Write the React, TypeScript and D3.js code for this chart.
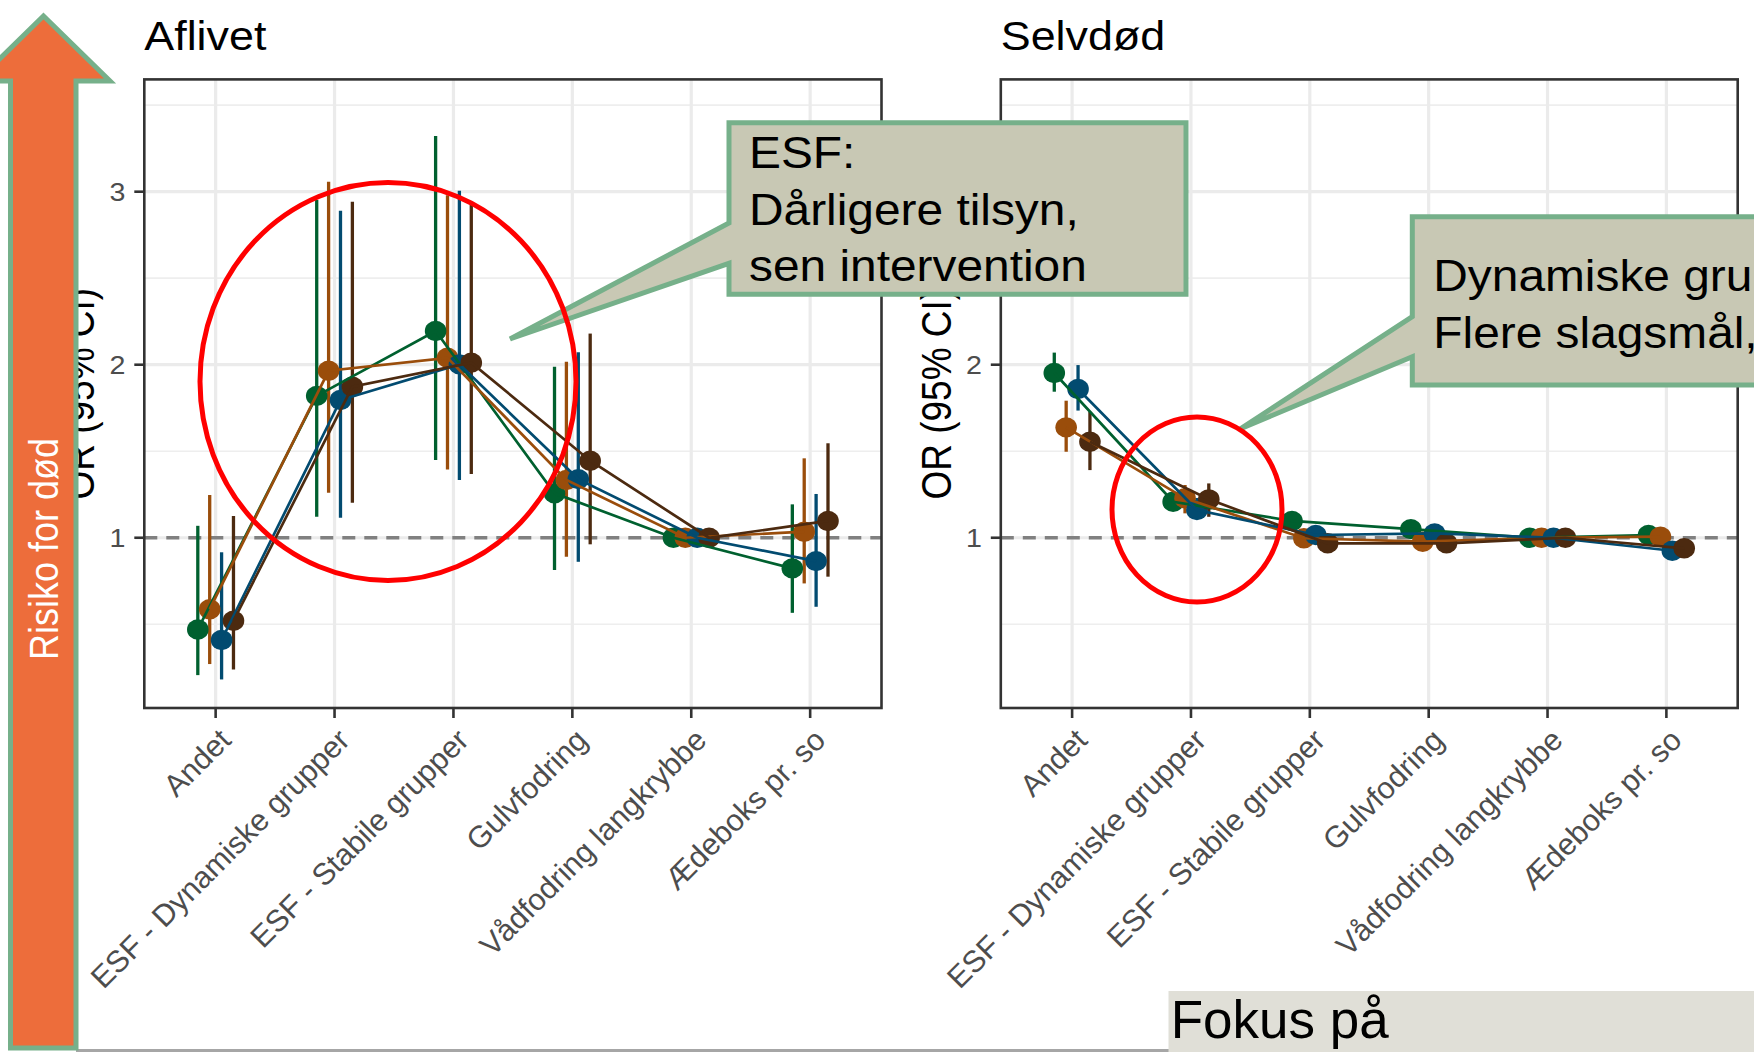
import React from "react";
import * as d3 from "d3";

// ---------- data ----------
const categories = [
  "Andet",
  "ESF - Dynamiske grupper",
  "ESF - Stabile grupper",
  "Gulvfodring",
  "Vådfodring langkrybbe",
  "Ædeboks pr. so",
];
const seriesColors = ["#00602F", "#9A4D0B", "#024B70", "#4C2A10"];
const yMajorTicks = [1, 2, 3];
const yMinorTicks = [0.5, 1.5, 2.5, 3.5];
const yDomain = [0.016, 3.649];

// Aflivet (euthanised)
const aflivetGreenEst = [0.47, 1.82, 2.195, 1.257, 1.0, 0.823];
const aflivetGreenLo = [0.206, 1.121, 1.449, 0.813, 0.98, 0.566];
const aflivetGreenHi = [1.069, 2.952, 3.322, 1.988, 1.02, 1.193];
const aflivetOrangeEst = [0.587, 1.965, 2.04, 1.334, 1.0, 1.035];
const aflivetOrangeLo = [0.27, 1.26, 1.395, 0.89, 0.98, 0.736];
const aflivetOrangeHi = [1.247, 3.058, 2.98, 2.017, 1.02, 1.459];
const aflivetBlueEst = [0.409, 1.796, 2.002, 1.339, 1.0, 0.865];
const aflivetBlueLo = [0.181, 1.116, 1.334, 0.861, 0.98, 0.601];
const aflivetBlueHi = [0.916, 2.89, 3.006, 2.072, 1.02, 1.253];
const aflivetBrownEst = [0.52, 1.873, 2.012, 1.445, 1.0, 1.097];
const aflivetBrownLo = [0.239, 1.202, 1.368, 0.962, 0.98, 0.775];
const aflivetBrownHi = [1.125, 2.942, 2.923, 2.18, 1.02, 1.546];

// Selvdød (died)
const selvdodGreenEst = [1.952, 1.208, 1.097, 1.05, 1.0, 1.016];
const selvdodGreenLo = [1.844, 1.17, 1.07, 1.03, 0.98, 1.0];
const selvdodGreenHi = [2.07, 1.25, 1.12, 1.07, 1.02, 1.03];
const selvdodOrangeEst = [1.638, 1.228, 0.997, 0.977, 1.0, 1.006];
const selvdodOrangeLo = [1.497, 1.141, 0.97, 0.95, 0.98, 0.99];
const selvdodOrangeHi = [1.792, 1.305, 1.03, 1.0, 1.02, 1.02];
const selvdodBlueEst = [1.86, 1.16, 1.016, 1.025, 1.0, 0.925];
const selvdodBlueLo = [1.735, 1.121, 0.99, 1.0, 0.98, 0.9];
const selvdodBlueHi = [1.998, 1.23, 1.04, 1.05, 1.02, 0.95];
const selvdodBrownEst = [1.555, 1.222, 0.968, 0.968, 1.0, 0.939];
const selvdodBrownLo = [1.391, 1.121, 0.94, 0.94, 0.98, 0.915];
const selvdodBrownHi = [1.728, 1.314, 1.0, 0.99, 1.02, 0.96];

const aflivetSeries = [
  { est: aflivetGreenEst, lo: aflivetGreenLo, hi: aflivetGreenHi },
  { est: aflivetOrangeEst, lo: aflivetOrangeLo, hi: aflivetOrangeHi },
  { est: aflivetBlueEst, lo: aflivetBlueLo, hi: aflivetBlueHi },
  { est: aflivetBrownEst, lo: aflivetBrownLo, hi: aflivetBrownHi },
];
const selvdodSeries = [
  { est: selvdodGreenEst, lo: selvdodGreenLo, hi: selvdodGreenHi },
  { est: selvdodOrangeEst, lo: selvdodOrangeLo, hi: selvdodOrangeHi },
  { est: selvdodBlueEst, lo: selvdodBlueLo, hi: selvdodBlueHi },
  { est: selvdodBrownEst, lo: selvdodBrownLo, hi: selvdodBrownHi },
];

// ---------- layout ----------
const W = 1754;
const H = 1052;
const PANEL_TOP = 79.4;
const PANEL_BOTTOM = 708;
const FONT = "'Liberation Sans', Arial, Helvetica, sans-serif";
const dodgeFractions = [-0.15, -0.05, 0.05, 0.15];

const yScale = d3.scaleLinear().domain(yDomain).range([PANEL_BOTTOM, PANEL_TOP]);

type Series = { est: number[]; lo: number[]; hi: number[] };

function Panel({ x0, x1, title, series }: { x0: number; x1: number; title: string; series: Series[] }) {
  const x = d3.scalePoint<string>().domain(categories).range([x0, x1]).padding(0.6);
  const step = x.step();
  const xs = (si: number, ci: number) => (x(categories[ci]) as number) + dodgeFractions[si] * step;
  const lineGen = d3
    .line<[number, number]>()
    .x((d) => d[0])
    .y((d) => d[1]);
  const midY = (PANEL_TOP + PANEL_BOTTOM) / 2;
  return (
    <g>
      <rect x={x0} y={PANEL_TOP} width={x1 - x0} height={PANEL_BOTTOM - PANEL_TOP} fill="#FFFFFF" />
      {yMinorTicks.map((v) => (
        <line key={"mn" + v} x1={x0} x2={x1} y1={yScale(v)} y2={yScale(v)} stroke="#EEEEEE" strokeWidth={1.7} />
      ))}
      {yMajorTicks.map((v) => (
        <line key={"mj" + v} x1={x0} x2={x1} y1={yScale(v)} y2={yScale(v)} stroke="#EBEBEB" strokeWidth={3.2} />
      ))}
      {categories.map((c) => (
        <line key={"vx" + c} x1={x(c)} x2={x(c)} y1={PANEL_TOP} y2={PANEL_BOTTOM} stroke="#EBEBEB" strokeWidth={3.2} />
      ))}
      <line x1={x0} x2={x1} y1={yScale(1)} y2={yScale(1)} stroke="#808080" strokeWidth={3.4} strokeDasharray="13 9" />
      {series.map((s, si) =>
        s.est.map((_, ci) => (
          <line
            key={"eb" + si + "-" + ci}
            x1={xs(si, ci)}
            x2={xs(si, ci)}
            y1={yScale(s.lo[ci])}
            y2={yScale(s.hi[ci])}
            stroke={seriesColors[si]}
            strokeWidth={3.3}
          />
        ))
      )}
      {series.map((s, si) =>
        s.est.map((v, ci) => (
          <ellipse key={"pt" + si + "-" + ci} cx={xs(si, ci)} cy={yScale(v)} rx={10.8} ry={10.2} fill={seriesColors[si]} />
        ))
      )}
      {series.map((s, si) => (
        <path
          key={"ln" + si}
          d={lineGen(s.est.map((v, ci) => [xs(si, ci), yScale(v)] as [number, number])) || ""}
          fill="none"
          stroke={seriesColors[si]}
          strokeWidth={2.7}
        />
      ))}
      <rect x={x0} y={PANEL_TOP} width={x1 - x0} height={PANEL_BOTTOM - PANEL_TOP} fill="none" stroke="#333333" strokeWidth={2.6} />
      {yMajorTicks.map((v) => (
        <g key={"yt" + v}>
          <line x1={x0 - 10} x2={x0} y1={yScale(v)} y2={yScale(v)} stroke="#333333" strokeWidth={2.6} />
          <text
            transform={`translate(${x0 - 19},${yScale(v) + 9.5}) scale(1.08,1)`}
            textAnchor="end"
            fontSize={26.5}
            fontFamily={FONT}
            fill="#4D4D4D"
          >
            {v}
          </text>
        </g>
      ))}
      {categories.map((c) => (
        <g key={"xt" + c}>
          <line x1={x(c)} x2={x(c)} y1={PANEL_BOTTOM} y2={PANEL_BOTTOM + 10} stroke="#333333" strokeWidth={2.6} />
          <text
            transform={`translate(${(x(c) as number) + 17},${PANEL_BOTTOM + 34}) rotate(-45)`}
            textAnchor="end"
            fontSize={30.5}
            fontFamily={FONT}
            fill="#4D4D4D"
          >
            {c}
          </text>
        </g>
      ))}
      <text transform={`translate(${x0},50) scale(1.08,1)`} fontSize={41.5} fontFamily={FONT} fill="#000000">
        {title}
      </text>
      <text
        transform={`translate(${x0 - 50},${midY}) rotate(-90) scale(1,1.15)`}
        textAnchor="middle"
        fontSize={37}
        fontFamily={FONT}
        fill="#000000"
      >
        OR (95% CI)
      </text>
    </g>
  );
}

const calloutFill = "#C8C8B4";
const calloutStroke = "#76B08A";

export default function App() {
  return (
    <svg
      width={W}
      height={H}
      viewBox={`0 0 ${W} ${H}`}
      style={{ position: "absolute", left: 0, top: 0, display: "block", background: "#FFFFFF" }}
    >
      <rect x={0} y={0} width={W} height={H} fill="#FFFFFF" />
      <Panel x0={144.3} x1={881.5} title="Aflivet" series={aflivetSeries} />
      <Panel x0={1000.8} x1={1737.7} title="Selvdød" series={selvdodSeries} />

      {/* bottom slide rule */}
      <rect x={76} y={1049} width={1100} height={3} fill="#A6A6A6" />

      {/* callout 1 */}
      <path
        d="M729,122.7 H1186 V294.3 H729 V263.3 L510,339 L729,223 Z"
        fill={calloutFill}
        stroke={calloutStroke}
        strokeWidth={5}
        strokeLinejoin="miter"
      />
      <g fontFamily={FONT} fontSize={43.5} fill="#000000">
        <text transform="translate(749,168.3) scale(1.1,1)">ESF:</text>
        <text transform="translate(749,224.8) scale(1.1,1)">Dårligere tilsyn,</text>
        <text transform="translate(749,281.3) scale(1.1,1)">sen intervention</text>
      </g>

      {/* callout 2 */}
      <path
        d="M1412.3,216.7 H1800 V385 H1412.3 V356.7 L1240,429 L1412.3,316.7 Z"
        fill={calloutFill}
        stroke={calloutStroke}
        strokeWidth={5}
      />
      <g fontFamily={FONT} fontSize={43.5} fill="#000000">
        <text transform="translate(1433.3,290.7) scale(1.1,1)">Dynamiske grupper:</text>
        <text transform="translate(1433.3,348.3) scale(1.1,1)">Flere slagsmål,</text>
      </g>

      {/* red highlight ellipses */}
      <ellipse cx={388} cy={381.5} rx={188} ry={199} fill="none" stroke="#FF0000" strokeWidth={5} />
      <ellipse cx={1197} cy={509.5} rx={85} ry={92.5} fill="none" stroke="#FF0000" strokeWidth={5} />

      {/* risk arrow */}
      <path
        d="M43.5,16 L110,81 L76,81 L76,1048 L10.5,1048 L10.5,81 L-23,81 Z"
        fill="#ED6D3B"
        stroke={calloutStroke}
        strokeWidth={5}
      />
      <text
        transform="translate(57.5,549) rotate(-90) scale(1,1.12)"
        textAnchor="middle"
        fontSize={36}
        fontFamily={FONT}
        fill="#FFFFFF"
      >
        Risiko for død
      </text>

      {/* bottom box */}
      <rect x={1168.5} y={991} width={W - 1168.5} height={H - 991} fill="#E0DFD7" />
      <text x={1170.7} y={1038.3} fontSize={53} fontFamily={FONT} fill="#000000">
        Fokus på
      </text>
    </svg>
  );
}
